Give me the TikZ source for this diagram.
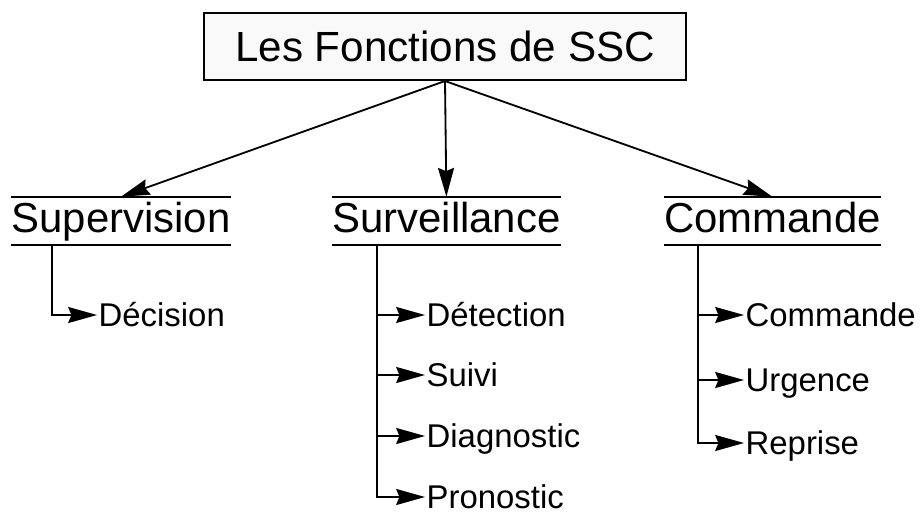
\documentclass[tikz,border=0pt]{standalone}
\usepackage{fontspec}
\setmainfont{Liberation Sans}
\usetikzlibrary{arrows.meta,positioning,calc}

\begin{document}
\begin{tikzpicture}
  \tikzstyle{titre}=[draw, line width=1.3pt, fill=gray!5, minimum width=12.05cm, minimum height=1.675cm, font=\fontsize{30}{32}\selectfont]
  \tikzstyle{fonction}=[inner xsep=0pt, inner ysep=0pt, minimum height=1.2cm, text height=21.3pt, text depth=5pt, font=\fontsize{29.8}{32}\selectfont]
  \tikzstyle{tache}=[anchor=west, inner xsep=1pt, inner ysep=0pt, text height=16.6pt, text depth=0pt, font=\fontsize{23.4}{25}\selectfont]
  \tikzstyle{fleche}=[-{Stealth[length=0.72cm, width=0.4cm, inset=0.08cm]}, line width=1.3pt]
  \tikzstyle{trait}=[line width=1.3pt]

  \useasboundingbox (0,0) rectangle (23,12.775);

  % Titre
  \node[titre] (ssc) at (11.125,11.61) {Les Fonctions de SSC};

  % Fonctions
  \node[fonction] (sup) at (3.025,7.25) {Supervision};
  \node[fonction] (surv) at (11.16,7.25) {Surveillance};
  \node[fonction] (cmd) at (19.31,7.25) {Commande};
  \foreach \f in {sup,surv,cmd} {
    \draw[trait] (\f.north west) -- (\f.north east);
    \draw[trait] (\f.south west) -- (\f.south east);
  }

  \draw[fleche] (ssc.south) -- (sup.north);
  \draw[fleche] (ssc.south) -- (surv.north);
  \draw[fleche] (ssc.south) -- (cmd.north);

  % Sous-fonctions
  \node[tache] (dec) at (2.425,4.9) {Décision};

  \node[tache] (det) at (10.625,4.9) {Détection};
  \node[tache] (suivi) at (10.625,3.4) {Suivi};
  \node[tache] (diag) at (10.625,1.875) {Diagnostic};
  \node[tache] (pron) at (10.625,0.35) {Pronostic};

  \node[tache] (cmd2) at (18.6,4.9) {Commande};
  \node[tache] (urg) at (18.6,3.275) {Urgence};
  \node[tache] (rep) at (18.6,1.7) {Reprise};

  % Liaisons
  \coordinate (sup-b) at (1.3,6.65);
  \coordinate (surv-b) at (9.425,6.65);
  \coordinate (cmd-b) at (17.45,6.65);

  \draw[fleche] (sup-b) |- (dec.west);

  \draw[fleche] (surv-b) |- (pron.west);
  \draw[fleche] (surv-b |- det.west) -- (det.west);
  \draw[fleche] (surv-b |- suivi.west) -- (suivi.west);
  \draw[fleche] (surv-b |- diag.west) -- (diag.west);

  \draw[fleche] (cmd-b) |- (rep.west);
  \draw[fleche] (cmd-b |- cmd2.west) -- (cmd2.west);
  \draw[fleche] (cmd-b |- urg.west) -- (urg.west);
\end{tikzpicture}
\end{document}
